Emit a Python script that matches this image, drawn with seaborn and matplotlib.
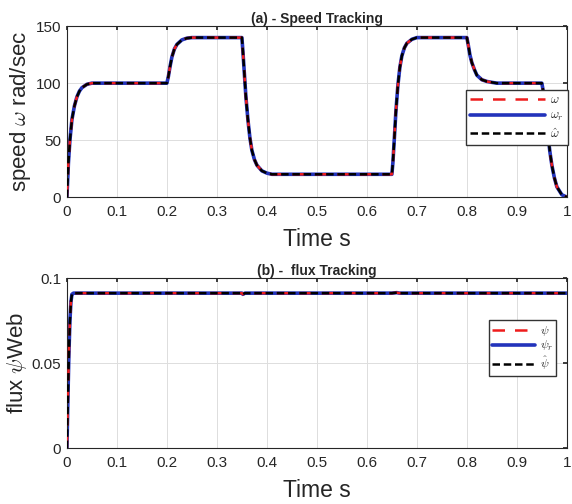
import numpy as np
import pandas as pd
import matplotlib
matplotlib.use("Agg")
import matplotlib.pyplot as plt
import seaborn as sns

# speed profile (rad/sec)
t_speed = [0, 0.003, 0.006, 0.01, 0.015, 0.02, 0.025, 0.03, 0.04, 0.05, 0.06,
           0.2, 0.203, 0.206, 0.21, 0.215, 0.22, 0.23, 0.24, 0.25,
           0.35, 0.352, 0.355, 0.358, 0.362, 0.366, 0.37, 0.375, 0.38, 0.39, 0.40, 0.41,
           0.65, 0.652, 0.655, 0.658, 0.662, 0.666, 0.67, 0.675, 0.68, 0.69, 0.70,
           0.80, 0.803, 0.806, 0.81, 0.815, 0.82, 0.83, 0.84, 0.85, 0.86,
           0.95, 0.952, 0.955, 0.958, 0.962, 0.966, 0.97, 0.975, 0.98, 0.99, 1.0]
speed_ref = [0, 30, 50, 68, 80, 88, 93, 96, 99, 100, 100,
             100, 106, 114, 123, 130, 134, 138, 139.5, 140,
             140, 128, 108, 88, 68, 52, 41, 33, 28, 23, 21, 20,
             20, 30, 52, 75, 98, 114, 124, 131, 135, 138.5, 140,
             140, 133, 125, 118, 112, 107, 103, 101.5, 100.7, 100,
             100, 95, 85, 72, 55, 40, 28, 17, 9, 2, 0]
speed_act = speed_ref
speed_est = speed_ref

# flux profile (Web)
t_flux = [0, 0.002, 0.004, 0.006, 0.008, 0.01, 0.013, 0.02, 0.35, 0.352, 0.356,
          0.65, 0.66, 0.665, 1.0]
flux_ref = [0, 0.03, 0.056, 0.075, 0.086, 0.0905, 0.0912, 0.0912, 0.0912, 0.0905, 0.0912,
            0.0912, 0.0915, 0.0912, 0.0912]

sns.set_theme(style="whitegrid")
plt.rcParams['font.family'] = ['Liberation Sans', 'DejaVu Sans']
plt.rcParams['mathtext.fontset'] = 'cm'

fig = plt.figure(figsize=(5.72, 5.04), dpi=100)
ax1 = fig.add_axes([0.117, 0.609, 0.874, 0.339])
ax2 = fig.add_axes([0.117, 0.111, 0.874, 0.337])

def style_axes(ax):
    ax.set_facecolor('white')
    for s in ax.spines.values():
        s.set_color('#262626')
        s.set_linewidth(0.8)
    ax.grid(True, color='#dddddd', linewidth=0.7)
    ax.tick_params(direction='in', top=True, right=True, length=3,
                   labelsize=11, colors='#262626', pad=6)
    ax.set_xlim(0, 1)
    ax.set_xticks(np.arange(0, 1.01, 0.1))
    ax.set_xticklabels(['0', '0.1', '0.2', '0.3', '0.4', '0.5', '0.6', '0.7', '0.8', '0.9', '1'])

# (a) speed
sns.lineplot(x=t_speed, y=speed_act, ax=ax1, color='#2233bb', linewidth=2.6, label=r'$\omega_r$', zorder=2)
sns.lineplot(x=t_speed, y=speed_ref, ax=ax1, color='#ee1c1c', linewidth=1.8, linestyle=(0, (5, 4)), label=r'$\omega$', zorder=3)
sns.lineplot(x=t_speed, y=speed_est, ax=ax1, color='black', linewidth=1.8, linestyle=(0, (3, 1.5)), label=r'$\hat{\omega}$', zorder=4)
style_axes(ax1)
ax1.tick_params(axis='y', pad=4)
ax1.set_ylim(0, 150)
ax1.set_yticks([0, 50, 100, 150])
ax1.set_title('(a) - Speed Tracking', fontsize=10, fontweight='bold', pad=2)
ax1.set_xlabel('Time s', fontsize=16.5, labelpad=6)
ax1.set_ylabel(r'speed $\omega$ rad/sec', fontsize=16, labelpad=2)
h, l = ax1.get_legend_handles_labels()
ax1.legend([h[1], h[0], h[2]], [l[1], l[0], l[2]], loc='upper left',
           bbox_to_anchor=(0.798, 0.626), borderaxespad=0, fontsize=9, frameon=True,
           fancybox=False, edgecolor='#333333', framealpha=1, handlelength=6.0,
           borderpad=0.35, labelspacing=0.3, handletextpad=0.4)

# (b) flux
sns.lineplot(x=t_flux, y=flux_ref, ax=ax2, color='#2233bb', linewidth=2.6, label=r'$\psi_r$', zorder=2)
sns.lineplot(x=t_flux, y=flux_ref, ax=ax2, color='#ee1c1c', linewidth=1.8, linestyle=(0, (5, 4)), label=r'$\psi$', zorder=3)
sns.lineplot(x=t_flux, y=flux_ref, ax=ax2, color='black', linewidth=1.8, linestyle=(0, (3, 1.5)), label=r'$\hat{\psi}$', zorder=4)
style_axes(ax2)
ax2.tick_params(axis='y', pad=4)
ax2.set_ylim(0, 0.1)
ax2.set_yticks([0, 0.05, 0.1])
ax2.set_yticklabels(['0', '0.05', '0.1'])
ax2.set_title('(b) -  flux Tracking', fontsize=10, fontweight='bold', pad=2)
ax2.set_xlabel('Time s', fontsize=16.5, labelpad=6)
ax2.set_ylabel(r'flux $\psi$Web', fontsize=16, labelpad=2)
h, l = ax2.get_legend_handles_labels()
ax2.legend([h[1], h[0], h[2]], [l[1], l[0], l[2]], loc='upper left',
           bbox_to_anchor=(0.844, 0.753), borderaxespad=0, fontsize=8.5, frameon=True,
           fancybox=False, edgecolor='#333333', framealpha=1, handlelength=3.6,
           borderpad=0.3, labelspacing=0.15, handletextpad=0.4)

fig.savefig('out.png', dpi=100, facecolor='white')
